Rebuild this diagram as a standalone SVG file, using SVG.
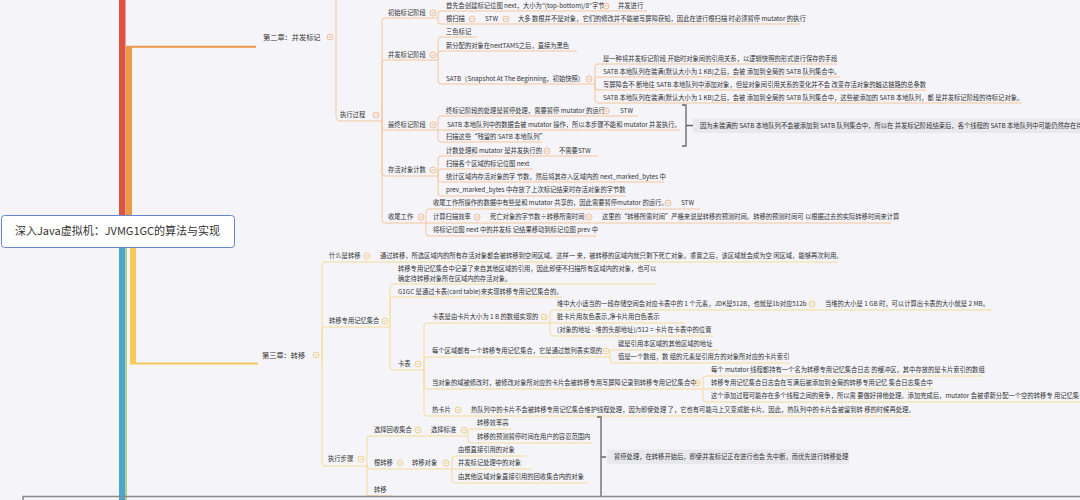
<svg xmlns="http://www.w3.org/2000/svg" width="1080" height="500" viewBox="0 0 1080 500">
<style>
text{font-family:"Noto Sans CJK SC","Noto Sans",sans-serif;fill:#333;font-size:6.3px}
.ch{font-size:7.2px}
.root{font-size:11px}
.l2{fill:none;stroke:#f5c69c;stroke-width:1}
.l3{fill:none;stroke:#f6da98;stroke-width:1}
.br{fill:none;stroke:#666;stroke-width:1.3}
.sum{fill:#e8e8ed}
</style>
<defs>
<g id="cb2"><circle r="3" fill="none" stroke="#f0b07c" stroke-width="0.8"/><line x1="-1.5" x2="1.5" stroke="#f0b07c" stroke-width="0.8"/></g>
<g id="cb3"><circle r="3" fill="none" stroke="#efc96a" stroke-width="0.8"/><line x1="-1.5" x2="1.5" stroke="#efc96a" stroke-width="0.8"/></g>
</defs>
<rect width="1080" height="500" fill="#f4f4f9"/>

<g id="connectors">
<rect x="119" y="-2" width="6.5" height="218" fill="#e0533f"/>
<rect x="126" y="46" width="6" height="170" fill="#ef9848"/>
<line x1="126" y1="46.8" x2="256" y2="46.8" stroke="#ef9848" stroke-width="2"/>
<rect x="119" y="246" width="6.5" height="256" fill="#4aa8c9"/>
<line x1="126.3" y1="246" x2="126.3" y2="500" stroke="#b6cc5c" stroke-width="1.2"/>
<rect x="130" y="246" width="6" height="118" fill="#f6c95a"/>
<line x1="130" y1="363.5" x2="258" y2="363.5" stroke="#f6c95a" stroke-width="2"/>

<path class="l2" d="M336,-2 V116 Q336,121 341,121 H382"/>
<path class="l2" d="M382,121 V21 Q382,18 385,18 H438"/>
<path class="l2" d="M382,121 V63 Q382,60 385,60 H438"/>
<path class="l2" d="M382,121 V127 Q382,130 385,130 H438"/>
<path class="l2" d="M382,121 V173 Q382,176 385,176 H438"/>
<path class="l2" d="M382,121 V220 Q382,223 385,223 H426"/>
<path class="l2" d="M438,18 V14 Q438,11 441,11 H647"/>
<path class="l2" d="M438,18 V21 Q438,24 441,24 H800"/>
<path class="l2" d="M438,60 V40 Q438,37 441,37 H477"/>
<path class="l2" d="M438,60 V54 Q438,51 441,51 H577"/>
<path class="l2" d="M438,60 V81 Q438,84 441,84 H595"/>
<path class="l2" d="M595,84 V67 Q595,64 598,64 H837"/>
<path class="l2" d="M595,84 V80 Q595,77 598,77 H840"/>
<path class="l2" d="M595,84 V87 Q595,90 598,90 H926"/>
<path class="l2" d="M595,84 V100 Q595,103 598,103 H1022"/>
<path class="l2" d="M438,130 V119 Q438,116 441,116 H638"/>
<path class="l2" d="M438,130 H680"/>
<path class="l2" d="M438,130 V139 Q438,142 441,142 H542"/>
<path class="l2" d="M438,176 V159 Q438,156 441,156 H598"/>
<path class="l2" d="M438,176 V172 Q438,169 441,169 H533"/>
<path class="l2" d="M438,176 V179 Q438,182 441,182 H664"/>
<path class="l2" d="M438,176 V193 Q438,196 441,196 H625"/>
<path class="l2" d="M426,223 V212 Q426,209 429,209 H700"/>
<path class="l2" d="M426,223 H891"/>
<path class="l2" d="M426,223 V233 Q426,236 429,236 H596"/>
<path class="br" d="M682,105 H686 V146 H682 M686,125.5 H693"/>

<path class="l3" d="M322,363 V265 Q322,262 325,262 H838"/>
<path class="l3" d="M322,363 V330 Q322,327 325,327 H390"/>
<path class="l3" d="M322,363 V463 Q322,466 325,466 H367"/>
<path class="l3" d="M390,327 V287 Q390,284 393,284 H657"/>
<path class="l3" d="M390,327 V300 Q390,297 393,297 H562"/>
<path class="l3" d="M390,327 V367 Q390,370 393,370 H424"/>
<path class="l3" d="M424,370 V326 Q424,323 427,323 H550"/>
<path class="l3" d="M424,370 V360 Q424,357 427,357 H610"/>
<path class="l3" d="M424,370 V386 Q424,389 427,389 H703"/>
<path class="l3" d="M424,370 V413 Q424,416 427,416 H910"/>
<path class="l3" d="M550,323 V313 Q550,310 553,310 H992"/>
<path class="l3" d="M550,323 H685"/>
<path class="l3" d="M550,323 V333 Q550,336 553,336 H713"/>
<path class="l3" d="M610,357 V353 Q610,350 613,350 H718"/>
<path class="l3" d="M610,357 V360 Q610,363 613,363 H790"/>
<path class="l3" d="M703,389 V379 Q703,376 706,376 H982"/>
<path class="l3" d="M703,389 H933"/>
<path class="l3" d="M703,389 V399 Q703,402 706,402 H1085"/>
<path class="l3" d="M367,466 V439 Q367,436 370,436 H468"/>
<path class="l3" d="M367,466 Q367,469 370,469 H452"/>
<path class="l3" d="M367,466 V493 Q367,496 370,496 H392"/>
<path class="l3" d="M468,436 V432 Q468,429 471,429 H513"/>
<path class="l3" d="M468,436 V440 Q468,443 471,443 H592"/>
<path class="l3" d="M452,469 V459 Q452,456 455,456 H526"/>
<path class="l3" d="M452,469 H532"/>
<path class="l3" d="M452,469 V480 Q452,483 455,483 H588"/>
<path class="br" d="M597,417 H601 V496 M601,457 H606"/>
<path d="M23,500 V496.5 H1080" fill="none" stroke="#8a8a8a" stroke-width="1.5"/>
</g>

<g id="root"><rect x="1.5" y="215.5" width="233" height="32" rx="3" fill="#fff" stroke="#6a85d0" stroke-width="1"/><text class="root" x="117.5" y="235" text-anchor="middle">深入Java虚拟机：JVMG1GC的算法与实现</text></g>

<g id="ch2"><text class="ch" x="263" y="39.5">第二章：并发标记</text><use href="#cb2" x="330" y="37"/></g>
<g id="n-zxgc"><text x="340" y="117.2">执行过程</text><use href="#cb2" x="376" y="115"/></g>
<g id="n-csbj"><text x="388" y="15.2">初始标记阶段</text><use href="#cb2" x="433" y="13"/></g>
<g id="n-csbj1"><text x="446" y="8.2">首先会创建标记位图 next，大小为"(top-bottom)/8"字节</text><use href="#cb2" x="606" y="6"/><text x="618" y="8.2">并发进行</text></g>
<g id="n-csbj2"><text x="446" y="21.2">根扫描</text><use href="#cb2" x="472" y="19"/><text x="485" y="21.2">STW</text><use href="#cb2" x="506" y="19"/><text x="518" y="21.2">大多 数根并不是对象，它们的修改并不能被写屏障获知，因此在进行根扫描 时必须暂停 mutator 的执行</text></g>
<g id="n-bfbj"><text x="388" y="57.2">并发标记阶段</text><use href="#cb2" x="433" y="55"/></g>
<g id="n-bfbj1"><text x="446" y="34.2">三色标记</text></g>
<g id="n-bfbj2"><text x="446" y="48.2">新分配的对象在nextTAMS之后，直接为黑色</text></g>
<g id="n-satb"><text x="446" y="81.2">SATB（Snapshot At The Beginning，初始快照）</text><use href="#cb2" x="589" y="79"/></g>
<g id="n-satb1"><text x="603" y="61.2">是一种将并发标记阶段 开始时对象间的引用关系，以逻辑快照的形式进行保存的手段</text></g>
<g id="n-satb2"><text x="603" y="74.2">SATB 本地队列在装满(默认大小为 1 KB)之后，会被 添加到全局的 SATB 队列集合中。</text></g>
<g id="n-satb3"><text x="603" y="87.2">写屏障会不 断地往 SATB 本地队列中添加对象，但是对象间引用关系的变化并不会 改变存活对象的触达链路的总条数</text></g>
<g id="n-satb4"><text x="603" y="100.2">SATB 本地队列在装满(默认大小为 1 KB)之后，会被 添加到全局的 SATB 队列集合中，这些被添加的 SATB 本地队列，都 是并发标记阶段的待标记对象。</text></g>
<g id="n-zzbj"><text x="388" y="127.2">最终标记阶段</text><use href="#cb2" x="433" y="125"/></g>
<g id="n-zzbj1"><text x="446" y="113.2">终标记阶段的处理是暂停处理，需要暂停 mutator 的运行</text><use href="#cb2" x="606" y="111"/><text x="620" y="113.2">STW</text></g>
<g id="n-zzbj2"><text x="447" y="126.7">SATB 本地队列中的数据会被 mutator 操作，所以本步骤不能和 mutator 并发执行。</text></g>
<g id="n-zzbj3"><text x="446" y="139.2">扫描这些“残留的 SATB 本地队列”</text></g>
<g id="s-zzbj"><rect class="sum" x="693" y="118.5" width="400" height="14.5" rx="2"/><text x="700" y="127.7">因为未装满的 SATB 本地队列不会被添加到 SATB 队列集合中，所以在 并发标记阶段结束后，各个线程的 SATB 本地队列中可能仍然存在待标记的对象。</text></g>
<g id="n-chjs"><text x="388" y="172.2">存活对象计数</text><use href="#cb2" x="433" y="170"/></g>
<g id="n-chjs1"><text x="446" y="153.2">计数处理和 mutator 是并发执行的</text><use href="#cb2" x="547" y="151"/><text x="559" y="153.2">不需要STW</text></g>
<g id="n-chjs2"><text x="446" y="166.2">扫描各个区域的标记位图 next</text></g>
<g id="n-chjs3"><text x="446" y="179.2">统计区域内存活对象的字 节数，然后将其存入区域内的 next_marked_bytes 中</text></g>
<g id="n-chjs4"><text x="446" y="192.2">prev_marked_bytes 中存放了上次标记结束时存活对象的字节数</text></g>
<g id="n-swgz"><text x="388" y="219.2">收尾工作</text><use href="#cb2" x="421" y="217"/></g>
<g id="n-swgz1"><text x="433" y="205.2">收尾工作所操作的数据中有些是和 mutator 共享的，因此需要暂停mutator 的运行。</text><use href="#cb2" x="668" y="203"/><text x="681" y="205.2">STW</text></g>
<g id="n-swgz2"><text x="433" y="219.2">计算扫描效率</text><use href="#cb2" x="477" y="217"/><text x="490" y="219.2">死亡对象的字节数÷转移所需时间</text><use href="#cb2" x="589" y="217"/><text x="602" y="219.2">这里的“转移所需时间”严格来说是转移的预测时间。转移的预测时间可 以根据过去的实际转移时间来计算</text></g>
<g id="n-swgz3"><text x="433" y="232.2">将标记位图 next 中的并发标 记结果移动到标记位图 prev 中</text></g>

<g id="ch3"><text class="ch" x="262" y="357.5">第三章：转移</text><use href="#cb3" x="316" y="355"/></g>
<g id="n-smszy"><text x="329" y="258.2">什么是转移</text><use href="#cb3" x="367" y="256"/><text x="380" y="258.2">通过转移，所选区域内的所有存活对象都会被转移到空闲区域。这样一 来，被转移的区域内就只剩下死亡对象。重置之后，该区域就会成为空 闲区域，能够再次利用。</text></g>
<g id="n-zyjy"><text x="329" y="323.2">转移专用记忆集合</text><use href="#cb3" x="385" y="321"/></g>
<g id="n-zyjy1"><text x="398" y="271.2">转移专用记忆集合中记录了来自其他区域的引用，因此即使不扫描所有区域内的对象，也可以</text><text x="398" y="281.2">确定待转移对象所在区域内的存活对象。</text></g>
<g id="n-zyjy2"><text x="398" y="294.2">G1GC 是通过卡表(card table)来实现转移专用记忆集合的。</text></g>
<g id="n-kb"><text x="398" y="366.2">卡表</text><use href="#cb3" x="418" y="364"/></g>
<g id="n-kb1"><text x="432" y="319.2">卡表是由卡片大小为 1 B 的数组实现的</text><use href="#cb3" x="544" y="317"/></g>
<g id="n-kb11"><text x="557" y="306.2">堆中大小适当的一段存储空间会对应卡表中的 1 个元素，JDK是512B，也就是1b对应512b</text><use href="#cb3" x="812" y="304"/><text x="825" y="306.2">当堆的大小是 1 GB 时，可以计算出卡表的大小就是 2 MB。</text></g>
<g id="n-kb12"><text x="557" y="319.2">脏卡片用灰色表示,净卡片用白色表示</text></g>
<g id="n-kb13"><text x="557" y="332.2">(对象的地址 - 堆的头部地址)/512 = 卡片在卡表中的位置</text></g>
<g id="n-kb2"><text x="432" y="353.2">每个区域都有一个转移专用记忆集合，它是通过散列表实现的</text><use href="#cb3" x="606" y="351"/></g>
<g id="n-kb21"><text x="618" y="346.2">键是引用本区域的其他区域的地址</text></g>
<g id="n-kb22"><text x="618" y="359.2">值是一个数组，数 组的元素是引用方的对象所对应的卡片索引</text></g>
<g id="n-kb3"><text x="432" y="385.2">当对象的域被修改时，被修改对象所对应的卡片会被转移专用写屏障记录到转移专用记忆集合中</text><use href="#cb3" x="697" y="383"/></g>
<g id="n-kb31"><text x="711" y="372.2">每个 mutator 线程都持有一个名为转移专用记忆集合日志 的缓冲区，其中存放的是卡片索引的数组</text></g>
<g id="n-kb32"><text x="711" y="385.2">转移专用记忆集合日志会在写满后被添加到全局的转移专用记忆 集合日志集合中</text></g>
<g id="n-kb33"><text x="711" y="398.2">这个添加过程可能存在多个线程之间的竞争，所以需 要做好排他处理。添加完成后，mutator 会被重新分配一个空的转移专 用记忆集合日志</text></g>
<g id="n-kb4"><text x="432" y="412.2">热卡片</text><use href="#cb3" x="458" y="410"/><text x="471" y="412.2">热队列中的卡片不会被转移专用记忆集合维护线程处理，因为即使处理 了，它也有可能马上又变成脏卡片。因此，热队列中的卡片会被留到转 移的时候再处理。</text></g>
<g id="n-zxbz"><text x="328" y="461.2">执行步骤</text><use href="#cb3" x="361" y="459"/></g>
<g id="n-xzhs"><text x="374" y="432.2">选择回收集合</text><use href="#cb3" x="418" y="430"/><text x="431" y="432.2">选择标准</text><use href="#cb3" x="464" y="430"/></g>
<g id="n-xzbz1"><text x="477" y="425.2">转移效率高</text></g>
<g id="n-xzbz2"><text x="477" y="439.2">转移的预测暂停时间在用户的容忍范围内</text></g>
<g id="n-gzy"><text x="374" y="465.2">根转移</text><use href="#cb3" x="400" y="463"/><text x="412" y="465.2">转移对象</text><use href="#cb3" x="446" y="463"/></g>
<g id="n-zydx1"><text x="458" y="452.2">由根直接引用的对象</text></g>
<g id="n-zydx2"><text x="458" y="465.2">并发标记处理中的对象</text></g>
<g id="n-zydx3"><text x="458" y="479.2">由其他区域对象直接引用的回收集合内的对象</text></g>
<g id="n-zy"><text x="374" y="492.2">转移</text></g>
<g id="s-zxbz"><rect class="sum" x="607" y="449.5" width="242" height="14.5" rx="2"/><text x="614" y="459.2">暂停处理，在转移开始后，即使并发标记正在进行也会 先中断，而优先进行转移处理</text></g>
</svg>
